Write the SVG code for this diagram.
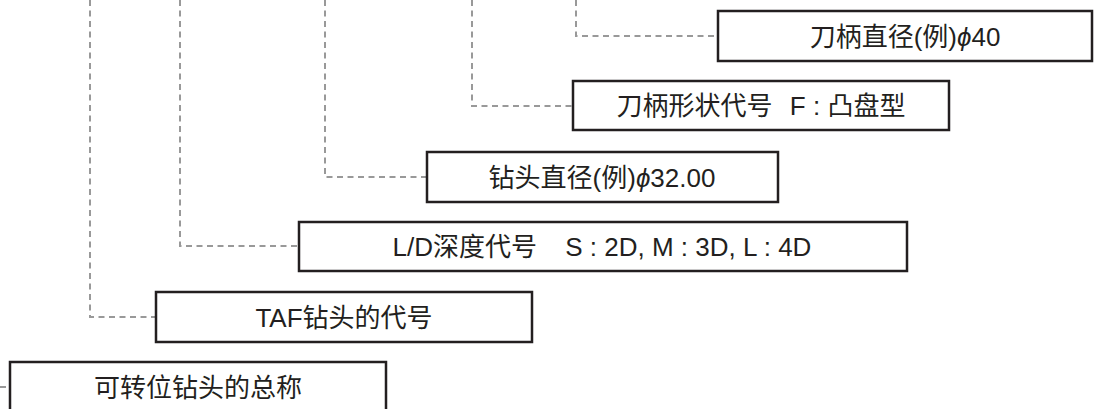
<svg xmlns="http://www.w3.org/2000/svg" width="1094" height="409" viewBox="0 0 1094 409">
<style>
.box{fill:#fff;stroke:#231f20;stroke-width:2.5}
.lbl{font-family:"Liberation Sans","Noto Sans CJK SC",sans-serif;font-size:26px;fill:#231f20;text-anchor:middle}
.con{fill:none;stroke:#999;stroke-width:2;stroke-dasharray:6 4.5}
.phi{font-style:italic}
</style>
<rect width="1094" height="409" fill="#fff"/>
<g id="connectors">
<path class="con" d="M576 0V36H718"/>
<path class="con" d="M472 0V106H573"/>
<path class="con" d="M325 0V177H427"/>
<path class="con" d="M180 0V246H299"/>
<path class="con" d="M90 0V317H156"/>
<path class="con" d="M0 387H10"/>
</g>
<g id="shank-diameter">
<rect class="box" x="718" y="11" width="374" height="50"/>
<text class="lbl" x="905" y="45.5">刀柄直径(例)<tspan class="phi">ϕ</tspan>40</text>
</g>
<g id="shank-shape">
<rect class="box" x="573" y="81" width="376" height="49"/>
<text class="lbl" x="761" y="115" xml:space="preserve">刀柄形状代号 <tspan dx="10">F</tspan> : 凸盘型</text>
</g>
<g id="drill-diameter">
<rect class="box" x="427" y="152" width="351" height="50"/>
<text class="lbl" x="602" y="186.5">钻头直径(例)<tspan class="phi">ϕ</tspan>32.00</text>
</g>
<g id="ld-depth">
<rect class="box" x="299" y="222" width="608" height="49"/>
<text class="lbl" x="602" y="255.5" xml:space="preserve">L/D深度代号 <tspan dx="21">S</tspan> : 2D, M : 3D, L : 4D</text>
</g>
<g id="taf-code">
<rect class="box" x="156" y="292" width="376" height="50"/>
<text class="lbl" x="344" y="326.5">TAF钻头的代号</text>
</g>
<g id="general-name">
<rect class="box" x="10" y="362" width="376" height="60"/>
<text class="lbl" x="198" y="397">可转位钻头的总称</text>
</g>
</svg>
